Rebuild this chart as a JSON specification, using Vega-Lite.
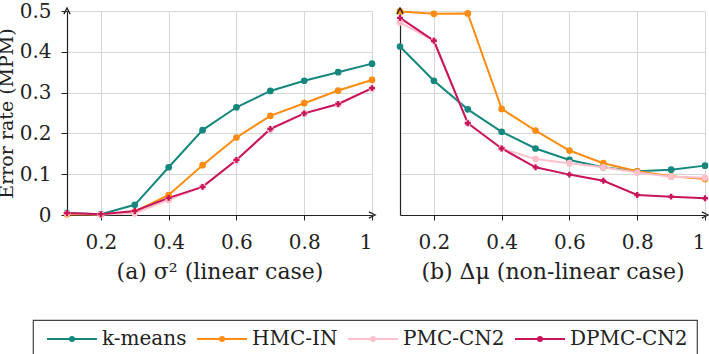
{
 "$schema": "https://vega.github.io/schema/vega-lite/v6.json",
 "padding": {"left": -3, "top": 1, "right": 0, "bottom": 0},
 "background": "white",
 "spacing": 28,
 "bounds": "flush",
 "datasets": {"d": [
  {"p":"a","m":"k-means","x":0.1,"y":0.005},{"p":"a","m":"k-means","x":0.2,"y":0.002},{"p":"a","m":"k-means","x":0.3,"y":0.025},{"p":"a","m":"k-means","x":0.4,"y":0.117},{"p":"a","m":"k-means","x":0.5,"y":0.208},{"p":"a","m":"k-means","x":0.6,"y":0.264},{"p":"a","m":"k-means","x":0.7,"y":0.304},{"p":"a","m":"k-means","x":0.8,"y":0.329},{"p":"a","m":"k-means","x":0.9,"y":0.350},{"p":"a","m":"k-means","x":1.0,"y":0.371},
  {"p":"a","m":"HMC-IN","x":0.1,"y":0.002},{"p":"a","m":"HMC-IN","x":0.2,"y":0.001},{"p":"a","m":"HMC-IN","x":0.3,"y":0.008},{"p":"a","m":"HMC-IN","x":0.4,"y":0.049},{"p":"a","m":"HMC-IN","x":0.5,"y":0.122},{"p":"a","m":"HMC-IN","x":0.6,"y":0.190},{"p":"a","m":"HMC-IN","x":0.7,"y":0.243},{"p":"a","m":"HMC-IN","x":0.8,"y":0.274},{"p":"a","m":"HMC-IN","x":0.9,"y":0.305},{"p":"a","m":"HMC-IN","x":1.0,"y":0.331},
  {"p":"a","m":"PMC-CN2","x":0.1,"y":0.004},{"p":"a","m":"PMC-CN2","x":0.2,"y":0.001},{"p":"a","m":"PMC-CN2","x":0.3,"y":0.004},{"p":"a","m":"PMC-CN2","x":0.4,"y":0.037},{"p":"a","m":"PMC-CN2","x":0.5,"y":0.069},{"p":"a","m":"PMC-CN2","x":0.6,"y":0.134},{"p":"a","m":"PMC-CN2","x":0.7,"y":0.209},{"p":"a","m":"PMC-CN2","x":0.8,"y":0.249},{"p":"a","m":"PMC-CN2","x":0.9,"y":0.271},{"p":"a","m":"PMC-CN2","x":1.0,"y":0.310},
  {"p":"a","m":"DPMC-CN2","x":0.1,"y":0.005},{"p":"a","m":"DPMC-CN2","x":0.2,"y":0.002},{"p":"a","m":"DPMC-CN2","x":0.3,"y":0.010},{"p":"a","m":"DPMC-CN2","x":0.4,"y":0.042},{"p":"a","m":"DPMC-CN2","x":0.5,"y":0.069},{"p":"a","m":"DPMC-CN2","x":0.6,"y":0.135},{"p":"a","m":"DPMC-CN2","x":0.7,"y":0.211},{"p":"a","m":"DPMC-CN2","x":0.8,"y":0.249},{"p":"a","m":"DPMC-CN2","x":0.9,"y":0.272},{"p":"a","m":"DPMC-CN2","x":1.0,"y":0.311},
  {"p":"b","m":"k-means","x":0.1,"y":0.413},{"p":"b","m":"k-means","x":0.2,"y":0.329},{"p":"b","m":"k-means","x":0.3,"y":0.259},{"p":"b","m":"k-means","x":0.4,"y":0.204},{"p":"b","m":"k-means","x":0.5,"y":0.163},{"p":"b","m":"k-means","x":0.6,"y":0.135},{"p":"b","m":"k-means","x":0.7,"y":0.117},{"p":"b","m":"k-means","x":0.8,"y":0.107},{"p":"b","m":"k-means","x":0.9,"y":0.111},{"p":"b","m":"k-means","x":1.0,"y":0.121},
  {"p":"b","m":"HMC-IN","x":0.1,"y":0.499},{"p":"b","m":"HMC-IN","x":0.2,"y":0.493},{"p":"b","m":"HMC-IN","x":0.3,"y":0.494},{"p":"b","m":"HMC-IN","x":0.4,"y":0.260},{"p":"b","m":"HMC-IN","x":0.5,"y":0.207},{"p":"b","m":"HMC-IN","x":0.6,"y":0.158},{"p":"b","m":"HMC-IN","x":0.7,"y":0.127},{"p":"b","m":"HMC-IN","x":0.8,"y":0.107},{"p":"b","m":"HMC-IN","x":0.9,"y":0.095},{"p":"b","m":"HMC-IN","x":1.0,"y":0.088},
  {"p":"b","m":"PMC-CN2","x":0.1,"y":0.472},{"p":"b","m":"PMC-CN2","x":0.2,"y":0.427},{"p":"b","m":"PMC-CN2","x":0.3,"y":0.226},{"p":"b","m":"PMC-CN2","x":0.4,"y":0.163},{"p":"b","m":"PMC-CN2","x":0.5,"y":0.137},{"p":"b","m":"PMC-CN2","x":0.6,"y":0.127},{"p":"b","m":"PMC-CN2","x":0.7,"y":0.117},{"p":"b","m":"PMC-CN2","x":0.8,"y":0.104},{"p":"b","m":"PMC-CN2","x":0.9,"y":0.094},{"p":"b","m":"PMC-CN2","x":1.0,"y":0.091},
  {"p":"b","m":"DPMC-CN2","x":0.1,"y":0.483},{"p":"b","m":"DPMC-CN2","x":0.2,"y":0.427},{"p":"b","m":"DPMC-CN2","x":0.3,"y":0.225},{"p":"b","m":"DPMC-CN2","x":0.4,"y":0.163},{"p":"b","m":"DPMC-CN2","x":0.5,"y":0.117},{"p":"b","m":"DPMC-CN2","x":0.6,"y":0.099},{"p":"b","m":"DPMC-CN2","x":0.7,"y":0.084},{"p":"b","m":"DPMC-CN2","x":0.8,"y":0.049},{"p":"b","m":"DPMC-CN2","x":0.9,"y":0.045},{"p":"b","m":"DPMC-CN2","x":1.0,"y":0.041}
 ]},
 "config": {
  "font": "DejaVu Serif",
  "view": {"stroke": null},
  "axis": {"labelFont": "DejaVu Serif", "labelFontSize": 20, "labelColor": "#222", "titleFont": "DejaVu Serif", "titleFontSize": 22, "titleFontWeight": "normal", "titleColor": "#222", "gridColor": "#d6d6d6", "gridWidth": 1, "domainColor": "#222", "domainWidth": 1.2, "tickColor": "#222"},
  "legend": {"orient": "none", "legendX": -34, "legendY": 309, "direction": "horizontal", "gridAlign": "none", "strokeColor": "#444", "strokeWidth": 1.2, "padding": 9, "labelFont": "DejaVu Serif", "labelFontSize": 20, "labelColor": "#222", "symbolType": "M-1,0H9M3.6,0A0.4,0.4,0,1,1,4.4,0A0.4,0.4,0,1,1,3.6,0", "symbolSize": 100, "symbolStrokeWidth": 2, "columnPadding": 5, "labelOffset": 40}
 },
 "hconcat": [
  {
   "width": 305, "height": 204,
   "layer": [
    {"data": {"name": "d"}, "transform": [{"filter": "datum.p === 'a'"}],
     "mark": {"type": "line", "strokeWidth": 2},
     "encoding": {
      "x": {"field": "x", "type": "quantitative", "scale": {"domain": [0.1, 1], "nice": false, "zero": false}, "axis": {"values": [0.2, 0.4, 0.6, 0.8, 1], "format": "~g", "title": "(a) σ² (linear case)", "tickSize": 5, "labelPadding": 12, "titlePadding": 9, "grid": true}},
      "y": {"field": "y", "type": "quantitative", "scale": {"domain": [0, 0.5], "nice": false}, "axis": {"values": [0, 0.1, 0.2, 0.3, 0.4, 0.5], "format": "~g", "title": "Error rate (MPM)", "titleFontSize": 19, "tickSize": 6, "labelPadding": 10, "titlePadding": 3, "grid": true}},
      "color": {"field": "m", "type": "nominal", "scale": {"domain": ["k-means", "HMC-IN", "PMC-CN2", "DPMC-CN2"], "range": ["#16877d", "#ff8c12", "#ffc0cb", "#c8145a"]}, "legend": {"title": null}}
     }},
    {"data": {"name": "d"}, "transform": [{"filter": "datum.p === 'a' && datum.m !== 'DPMC-CN2'"}],
     "mark": {"type": "circle", "opacity": 1, "size": 45},
     "encoding": {
      "x": {"field": "x", "type": "quantitative"},
      "y": {"field": "y", "type": "quantitative"},
      "color": {"field": "m", "type": "nominal"}
     }},
    {"data": {"name": "d"}, "transform": [{"filter": "datum.p === 'a' && datum.m === 'DPMC-CN2'"}],
     "mark": {"type": "point", "shape": "cross", "filled": true, "opacity": 1, "size": 35},
     "encoding": {
      "x": {"field": "x", "type": "quantitative"},
      "y": {"field": "y", "type": "quantitative"},
      "color": {"field": "m", "type": "nominal"}
     }},
    {"data": {"values": [{}]},
     "mark": {"type": "point", "shape": "M-1,1L0,-1L1,1", "filled": false, "stroke": "#222", "strokeWidth": 1.3, "size": 40, "opacity": 1},
     "encoding": {"x": {"datum": 0.1}, "y": {"datum": 0.5}}},
    {"data": {"values": [{}]},
     "mark": {"type": "point", "shape": "M-1,-1L1,0L-1,1", "filled": false, "stroke": "#222", "strokeWidth": 1.3, "size": 40, "opacity": 1},
     "encoding": {"x": {"datum": 1}, "y": {"datum": 0}}}
   ]
  },
  {
   "width": 305, "height": 204,
   "layer": [
    {"data": {"name": "d"}, "transform": [{"filter": "datum.p === 'b'"}],
     "mark": {"type": "line", "strokeWidth": 2},
     "encoding": {
      "x": {"field": "x", "type": "quantitative", "scale": {"domain": [0.1, 1], "nice": false, "zero": false}, "axis": {"values": [0.2, 0.4, 0.6, 0.8, 1], "format": "~g", "title": "(b) Δμ (non-linear case)", "tickSize": 5, "labelPadding": 12, "titlePadding": 9, "grid": true}},
      "y": {"field": "y", "type": "quantitative", "scale": {"domain": [0, 0.5], "nice": false}, "axis": {"values": [0, 0.1, 0.2, 0.3, 0.4, 0.5], "labels": false, "ticks": false, "title": null, "grid": true}},
      "color": {"field": "m", "type": "nominal", "scale": {"domain": ["k-means", "HMC-IN", "PMC-CN2", "DPMC-CN2"], "range": ["#16877d", "#ff8c12", "#ffc0cb", "#c8145a"]}, "legend": {"title": null}}
     }},
    {"data": {"name": "d"}, "transform": [{"filter": "datum.p === 'b' && datum.m !== 'DPMC-CN2'"}],
     "mark": {"type": "circle", "opacity": 1, "size": 45},
     "encoding": {
      "x": {"field": "x", "type": "quantitative"},
      "y": {"field": "y", "type": "quantitative"},
      "color": {"field": "m", "type": "nominal"}
     }},
    {"data": {"name": "d"}, "transform": [{"filter": "datum.p === 'b' && datum.m === 'DPMC-CN2'"}],
     "mark": {"type": "point", "shape": "cross", "filled": true, "opacity": 1, "size": 35},
     "encoding": {
      "x": {"field": "x", "type": "quantitative"},
      "y": {"field": "y", "type": "quantitative"},
      "color": {"field": "m", "type": "nominal"}
     }},
    {"data": {"values": [{}]},
     "mark": {"type": "point", "shape": "M-1,1L0,-1L1,1", "filled": false, "stroke": "#222", "strokeWidth": 1.3, "size": 40, "opacity": 1},
     "encoding": {"x": {"datum": 0.1}, "y": {"datum": 0.5}}},
    {"data": {"values": [{}]},
     "mark": {"type": "point", "shape": "M-1,-1L1,0L-1,1", "filled": false, "stroke": "#222", "strokeWidth": 1.3, "size": 40, "opacity": 1},
     "encoding": {"x": {"datum": 1}, "y": {"datum": 0}}}
   ]
  }
 ]
}
